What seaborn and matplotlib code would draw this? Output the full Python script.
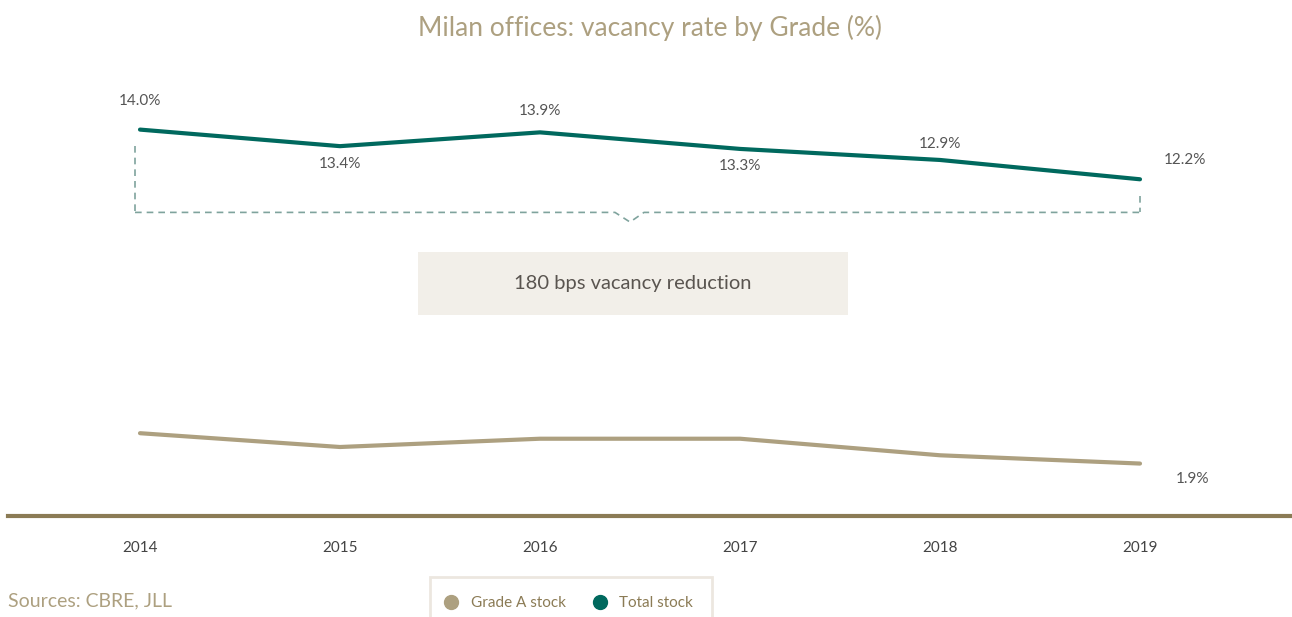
import matplotlib
matplotlib.use("Agg")
import matplotlib.pyplot as plt
import seaborn as sns
import pandas as pd
from matplotlib.lines import Line2D
from matplotlib.patches import Rectangle

years = ["2014", "2015", "2016", "2017", "2018", "2019"]
total_stock = [14.0, 13.4, 13.9, 13.3, 12.9, 12.2]
grade_a = [3.0, 2.5, 2.8, 2.8, 2.2, 1.9]
series_names = ["Grade A stock", "Total stock"]

TEAL = "#00695e"
BEIGE = "#ada080"
AXIS_BROWN = "#8b7b55"
TEXT_GREY = "#555555"

df = pd.DataFrame({
    "x": list(range(len(years))) * 2,
    "value": grade_a + total_stock,
    "series": [series_names[0]] * len(years) + [series_names[1]] * len(years),
})

sns.set_theme(style="white")
plt.rcParams["font.family"] = ["Lato", "DejaVu Sans"]

fig = plt.figure(figsize=(12.92, 6.17), dpi=100)
ax = fig.add_axes([8 / 1292, 101 / 617, 1282 / 1292, 414 / 617])

sns.lineplot(data=df, x="x", y="value", hue="series",
             palette={series_names[0]: BEIGE, series_names[1]: TEAL},
             linewidth=3, legend=False, ax=ax)

ax.set_xlim(-0.66, 5.75)
ax.set_ylim(0, 15)
ax.set_xticks(range(len(years)))
ax.set_xticklabels(years, fontsize=11, color="#444444")
ax.tick_params(axis="x", length=0, pad=18)
ax.set_yticks([])
ax.set_xlabel("")
ax.set_ylabel("")
for side in ["top", "left", "right"]:
    ax.spines[side].set_visible(False)
ax.spines["bottom"].set_color(AXIS_BROWN)
ax.spines["bottom"].set_linewidth(3)

# value labels for total stock (pixel offsets)
offsets = [(0, 29), (0, -18), (0, 21), (0, -17), (0, 16), (45, 19)]
for i, (v, (dx, dy)) in enumerate(zip(total_stock, offsets)):
    ax.annotate(f"{v:.1f}%", (i, v), xytext=(dx * 0.72, dy * 0.72),
                textcoords="offset points", ha="center", va="center",
                fontsize=11, color=TEXT_GREY)
ax.annotate(f"{grade_a[-1]:.1f}%", (5, grade_a[-1]), xytext=(53 * 0.72, -15 * 0.72),
            textcoords="offset points", ha="center", va="center",
            fontsize=11, color=TEXT_GREY)

# bracket showing the reduction
dash_kw = dict(color="#7fa39d", linestyle=(0, (4, 3)), linewidth=1.2)
ax.plot([-0.025, -0.025], [13.4, 11.0], **dash_kw)
ax.plot([5.0, 5.0], [11.6, 11.0], **dash_kw)
ax.plot([-0.025, 2.375, 2.45, 2.52, 5.0], [11.0, 11.0, 10.65, 11.0, 11.0], **dash_kw)

ax.add_patch(Rectangle((1.39, 7.28), 2.15, 2.29, facecolor="#f2efe9",
                       edgecolor="none", zorder=1))
ax.text(2.465, 8.43, "180 bps vacancy reduction", ha="center", va="center",
        fontsize=14.5, color="#5a5550")

fig.text(0.503, 0.955, "Milan offices: vacancy rate by Grade (%)", ha="center",
         va="center", fontsize=19, color=BEIGE)
fig.text(8 / 1292, 1 - 601 / 617, "Sources: CBRE, JLL", ha="left", va="center",
         fontsize=14, color=BEIGE)

handles = [Line2D([], [], marker="o", linestyle="", markersize=10,
                  markerfacecolor=c, markeredgecolor=c)
           for c in (BEIGE, TEAL)]
leg = fig.legend(handles, series_names, loc="upper center",
                 bbox_to_anchor=(571 / 1292, 1 - 577 / 617), ncol=2,
                 frameon=True, fancybox=False, fontsize=11, borderpad=1.25,
                 borderaxespad=0, handletextpad=1.1, columnspacing=2.1,
                 handlelength=0.3)
leg.get_frame().set_edgecolor("#e8e1d8")
leg.get_frame().set_linewidth(2)
for t in leg.get_texts():
    t.set_color(AXIS_BROWN)

fig.savefig("out.png", dpi=100)
